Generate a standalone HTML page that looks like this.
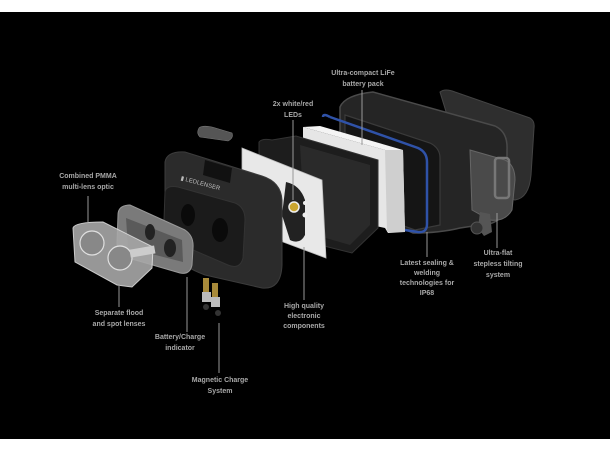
<!DOCTYPE html>
<html><head><meta charset="utf-8"><style>
html,body{margin:0;padding:0;background:#fff;}
svg{display:block}
text{font-family:"Liberation Sans",Arial,sans-serif;font-weight:bold;font-size:7px;fill:#a8a8a8;text-anchor:middle}
</style></head><body>
<svg width="610" height="450" viewBox="0 0 610 450" xmlns="http://www.w3.org/2000/svg">
<rect x="0" y="0" width="610" height="450" fill="#fff"/>
<rect x="0" y="12" width="610" height="427" fill="#000"/>

<!-- back strap plate -->
<path d="M440,92 Q445,88 455,92 L530,118 Q535,121 534,128 L531,175 Q529,198 515,200 L470,190 Z" fill="#2e2e2e" stroke="#444" stroke-width="1"/>
<!-- back housing -->
<path d="M340,107 Q345,95 373,92 L495,126 Q508,132 507,150 L507,200 Q505,225 480,225 L460,228 Q440,233 413,233 L340,200 Z" fill="#252525" stroke="#4a4a4a" stroke-width="1.5"/>
<path d="M345,115 L430,143 Q440,148 440,158 L440,225 L415,230 L345,205 Z" fill="#151515" stroke="#3a3a3a" stroke-width="1.2"/>
<!-- clip -->
<path d="M470,150 L505,160 Q515,165 515,180 L512,210 Q505,222 490,220 L472,210 Z" fill="#4a4a4a" stroke="#666" stroke-width="1"/>
<rect x="495" y="158" width="14" height="40" rx="3" fill="none" stroke="#777" stroke-width="2.5"/>
<path d="M480,212 L490,214 L492,232 L484,236 L478,228 Z" fill="#555"/>
<circle cx="477" cy="228" r="6" fill="#333" stroke="#555"/>
<!-- blue seal -->
<path d="M330,117 L418,148 Q427,152 427,162 L427,224 Q427,233 418,232 L405,230" fill="none" stroke="#2f52a8" stroke-width="2.5"/>
<path d="M323,117 Q323,113 330,117" fill="none" stroke="#2f52a8" stroke-width="2.5"/>
<!-- white battery pack -->
<path d="M303,127 L385,150 L403,150 L405,232 L388,233 L385,228 L303,210 Z" fill="#e6e6e6"/>
<path d="M385,150 L403,150 L405,232 L387,232 Z" fill="#cfcfcf"/>
<path d="M303,127 L385,150 L403,150 L320,126 Z" fill="#f4f4f4"/>
<!-- black heatsink plate -->
<path d="M259,142 Q262,138 272,140 L296,136 L378,160 L378,228 L352,253 L300,240 L270,200 L259,160 Z" fill="#1d1d1d" stroke="#333" stroke-width="1"/>
<path d="M300,145 L370,165 L370,225 L350,245 L305,232 Z" fill="#2a2a2a"/>
<circle cx="300" cy="215" r="4" fill="#111" stroke="#333"/>
<circle cx="305" cy="238" r="4" fill="#111" stroke="#333"/>
<!-- PCB -->
<path d="M242,148 L322,180 L326,258 L283,242 L270,205 L242,175 Z" fill="#e8e8e8" stroke="#bbb" stroke-width="0.8"/>
<path d="M286,182 Q300,185 305,200 L305,235 Q300,245 290,240 L282,215 Z" fill="#222"/>
<circle cx="294" cy="207" r="5" fill="#c9a530" stroke="#eee" stroke-width="1.5"/>
<circle cx="305" cy="203" r="2" fill="#eee"/>
<circle cx="305" cy="215" r="2.5" fill="#eee"/>
<!-- small top button -->
<path d="M199,128 Q202,125 212,127 L232,133 Q234,138 228,141 L200,137 Q196,133 199,128 Z" fill="#555" stroke="#777" stroke-width="0.6"/>
<!-- main body -->
<path d="M165,162 Q167,151 185,152 L262,176 Q281,182 282,200 L282,265 Q281,290 262,288 L205,275 Q170,262 165,240 Z" fill="#2b2b2b" stroke="#3c3c3c" stroke-width="1"/>
<path d="M205,160 L232,168 L230,183 L203,175 Z" fill="#111"/>
<path d="M165,192 Q166,185 178,187 L235,203 Q245,207 245,220 L243,258 Q240,270 228,265 L170,240 Q162,232 164,220 Z" fill="#1b1b1b" stroke="#333" stroke-width="1"/>
<ellipse cx="188" cy="215" rx="7" ry="11" fill="#0a0a0a"/>
<ellipse cx="220" cy="230" rx="8" ry="12" fill="#0a0a0a"/>
<text x="200" y="185" style="font-size:6px;fill:#bbb;font-weight:normal" transform="rotate(15 200 185)">▮ LEDLENSER</text>
<!-- springs -->
<rect x="203" y="278" width="6" height="14" fill="#a88a3a"/>
<rect x="212" y="283" width="6" height="14" fill="#a88a3a"/>
<rect x="202" y="292" width="9" height="10" fill="#bbb"/>
<rect x="211" y="297" width="9" height="10" fill="#bbb"/>
<circle cx="206" cy="307" r="3" fill="#333"/>
<circle cx="218" cy="313" r="3" fill="#333"/>
<!-- gasket -->
<path d="M118,215 Q118,205 130,205 L185,230 Q194,236 193,248 L192,265 Q190,275 180,273 L125,257 Q117,253 117,243 Z" fill="#7a7a7a" stroke="#999" stroke-width="1"/>
<path d="M126,218 L182,240 L183,262 L128,248 Z" fill="#5a5a5a"/>
<ellipse cx="150" cy="232" rx="5" ry="8" fill="#222"/>
<ellipse cx="170" cy="248" rx="6" ry="9" fill="#222"/>
<!-- lens -->
<path d="M73,228 Q75,222 103,222 L153,247 L152,268 L132,287 L117,285 L75,262 Z" fill="#a8a8a8" stroke="#e0e0e0" stroke-width="1" opacity="0.9"/>
<circle cx="92" cy="243" r="12" fill="#888" stroke="#e0e0e0" stroke-width="1.2"/>
<circle cx="120" cy="258" r="12" fill="#888" stroke="#e0e0e0" stroke-width="1.2"/>
<rect x="130" y="248" width="25" height="8" fill="#ccc" transform="rotate(-10 140 252)"/>

<!-- leader lines -->
<g stroke="#999" stroke-width="1">
<line x1="88" y1="196" x2="88" y2="222"/>
<line x1="119" y1="285" x2="119" y2="307"/>
<line x1="187" y1="277" x2="187" y2="332"/>
<line x1="219" y1="323" x2="219" y2="373"/>
<line x1="304" y1="247" x2="304" y2="300"/>
<line x1="293" y1="120" x2="293" y2="200"/>
<line x1="362" y1="90" x2="362" y2="145"/>
<line x1="427" y1="232" x2="427" y2="257"/>
<line x1="497" y1="213" x2="497" y2="248"/>
</g>

<!-- labels -->
<text x="88" y="178">Combined PMMA</text><text x="88" y="189">multi-lens optic</text>
<text x="119" y="315">Separate flood</text><text x="119" y="326">and spot lenses</text>
<text x="180" y="339">Battery/Charge</text><text x="180" y="350">indicator</text>
<text x="220" y="382">Magnetic Charge</text><text x="220" y="393">System</text>
<text x="304" y="308">High quality</text><text x="304" y="318">electronic</text><text x="304" y="328">components</text>
<text x="293" y="106">2x white/red</text><text x="293" y="117">LEDs</text>
<text x="363" y="75">Ultra-compact LiFe</text><text x="363" y="86">battery pack</text>
<text x="427" y="265">Latest sealing &amp;</text><text x="427" y="275">welding</text><text x="427" y="285">technologies for</text><text x="427" y="295">IP68</text>
<text x="498" y="255">Ultra-flat</text><text x="498" y="266">stepless tilting</text><text x="498" y="277">system</text>
</svg>
</body></html>
